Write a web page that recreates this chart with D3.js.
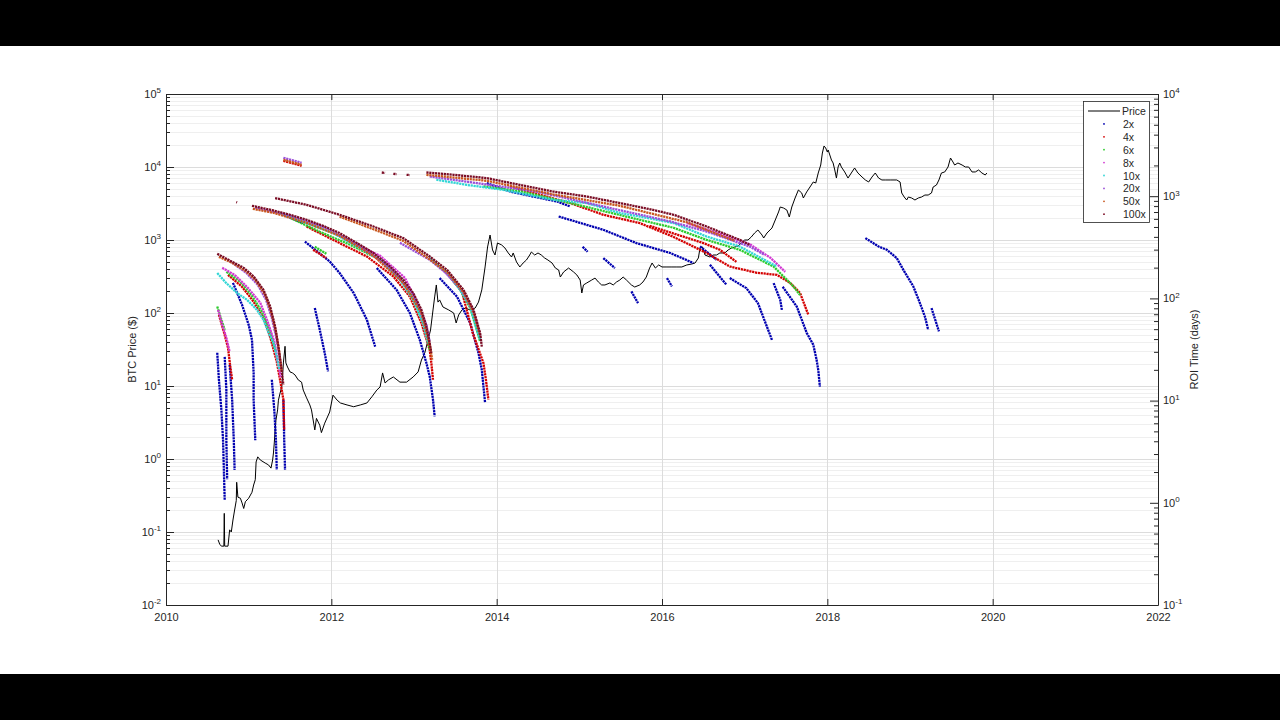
<!DOCTYPE html>
<html><head><meta charset="utf-8">
<script src="https://cdn.jsdelivr.net/npm/d3@7"></script>
<style>
body{margin:0;background:#000;}
svg{display:block;}
text{font-family:"Liberation Sans",Arial,Helvetica,sans-serif;fill:#262626;}
</style>
</head><body>
<svg id="chart" width="1280" height="720"></svg>
<script>
// ---------- DATA ----------
const priceData = [
[2010.63,0.078],[2010.65,0.068],[2010.67,0.064],[2010.70,0.064],[2010.705,0.18],[2010.71,0.064],[2010.75,0.064],
[2010.77,0.107],[2010.79,0.10],[2010.81,0.146],[2010.83,0.20],[2010.85,0.27],[2010.855,0.48],[2010.87,0.30],
[2010.90,0.29],[2010.92,0.25],[2010.94,0.21],[2010.96,0.26],[2011.00,0.29],[2011.04,0.35],[2011.06,0.44],
[2011.08,0.52],[2011.09,0.91],[2011.11,1.07],[2011.14,0.97],[2011.20,0.88],[2011.24,0.83],[2011.27,0.75],
[2011.29,0.97],[2011.30,1.21],[2011.31,1.66],[2011.32,2.5],[2011.33,3.4],[2011.35,4.7],[2011.36,6.4],
[2011.38,8.0],[2011.40,9.7],[2011.41,13.3],[2011.42,20.7],[2011.44,35],[2011.45,20.7],[2011.47,18.2],
[2011.50,15.6],[2011.53,15.1],[2011.56,14.2],[2011.60,12.1],[2011.64,11.3],[2011.66,8.8],[2011.70,6.9],
[2011.74,5.5],[2011.76,4.7],[2011.80,2.5],[2011.82,3.6],[2011.86,2.9],[2011.88,2.3],[2011.92,3.1],
[2011.98,4.4],[2012.02,7.5],[2012.07,6.4],[2012.11,5.85],[2012.19,5.5],[2012.27,5.2],[2012.35,5.5],
[2012.43,5.85],[2012.49,7.1],[2012.55,8.8],[2012.59,9.7],[2012.62,15.1],[2012.65,11.0],[2012.69,12.1],
[2012.75,13.3],[2012.83,11.3],[2012.91,11.3],[2012.99,13.3],[2013.05,15.6],[2013.09,22.7],[2013.13,28.3],
[2013.17,42.7],[2013.20,58.5],[2013.23,110],[2013.25,166],[2013.27,242],[2013.29,141],[2013.31,151],
[2013.35,121],[2013.42,110],[2013.48,100],[2013.51,73],[2013.54,94],[2013.58,110],[2013.62,117],
[2013.68,110],[2013.74,117],[2013.78,141],[2013.82,207],[2013.86,427],[2013.89,802],[2013.92,1170],
[2013.95,730],[2013.98,623],[2014.01,910],[2014.06,855],[2014.10,777],[2014.14,664],[2014.18,585],
[2014.20,664],[2014.24,500],[2014.28,427],[2014.32,484],[2014.36,532],[2014.40,623],[2014.42,685],
[2014.46,623],[2014.50,664],[2014.54,623],[2014.58,567],[2014.62,532],[2014.67,484],[2014.71,413],
[2014.75,388],[2014.77,311],[2014.81,365],[2014.87,413],[2014.93,365],[2014.97,332],[2015.01,283],
[2015.03,188],[2015.05,242],[2015.09,258],[2015.15,283],[2015.19,301],[2015.23,266],[2015.27,242],
[2015.31,242],[2015.37,258],[2015.41,242],[2015.45,266],[2015.49,283],[2015.53,311],[2015.57,283],
[2015.63,242],[2015.67,227],[2015.73,242],[2015.77,266],[2015.81,311],[2015.85,413],[2015.88,484],
[2015.92,413],[2015.96,455],[2016.00,427],[2016.06,427],[2016.12,427],[2016.18,427],[2016.24,427],
[2016.30,455],[2016.36,469],[2016.40,484],[2016.44,567],[2016.46,777],[2016.49,802],[2016.52,623],
[2016.58,585],[2016.62,623],[2016.66,623],[2016.70,664],[2016.76,664],[2016.80,730],[2016.84,777],
[2016.88,802],[2016.92,828],[2016.96,910],[2017.00,1000],[2017.04,1000],[2017.08,1099],[2017.12,1247],
[2017.16,1371],[2017.21,1170],[2017.23,1065],[2017.27,1247],[2017.33,1459],[2017.37,1879],[2017.41,2420],
[2017.43,2831],[2017.47,2742],[2017.51,2576],[2017.54,2065],[2017.57,2831],[2017.61,3760],[2017.65,4841],
[2017.69,4404],[2017.71,3760],[2017.75,4548],[2017.79,5321],[2017.83,6233],[2017.86,6037],[2017.89,8278],
[2017.92,10650],[2017.94,15550],[2017.96,19400],[2017.98,18200],[2018.00,16040],[2018.01,17100],
[2018.03,14590],[2018.05,12470],[2018.07,11350],[2018.09,9100],[2018.11,7060],[2018.13,10000],
[2018.15,11350],[2018.17,10000],[2018.21,8550],[2018.25,7060],[2018.29,8278],[2018.33,9690],[2018.37,8278],
[2018.42,7290],[2018.46,6640],[2018.50,6233],[2018.54,7290],[2018.58,8278],[2018.62,7060],[2018.66,6640],
[2018.70,6640],[2018.76,6640],[2018.84,6640],[2018.88,6233],[2018.90,4404],[2018.93,3880],[2018.96,3530],
[2018.98,3880],[2019.02,3760],[2019.06,3530],[2019.10,3760],[2019.14,3880],[2019.18,4130],[2019.22,4130],
[2019.26,4404],[2019.28,5321],[2019.32,5660],[2019.35,6640],[2019.38,8278],[2019.42,8550],[2019.46,10000],
[2019.49,13280],[2019.52,11700],[2019.54,10650],[2019.58,11350],[2019.63,10650],[2019.67,10000],
[2019.71,10000],[2019.75,8550],[2019.79,8550],[2019.83,9100],[2019.87,8278],[2019.91,7770],[2019.93,8278]
];

const seriesNames = ["2x","4x","6x","8x","10x","20x","50x","100x"];
const seriesColors = ["#0000b0","#d40000","#2ecc2e","#d23ad2","#33d6d6","#9a4fd8","#c8561e","#7a0c24"];

// ROI time (days) vs buy date, each series = list of dotted segments
const roi2x = [
 [[2010.62,29.4],[2010.64,16.0],[2010.67,8.1],[2010.69,4.1],[2010.70,2.1],[2010.71,1.07]],
 [[2010.71,26.8],[2010.73,12.8],[2010.73,4.1],[2010.74,1.7]],
 [[2010.77,22.4],[2010.80,10.2],[2010.82,4.1],[2010.83,2.1]],
 [[2010.81,142],[2010.92,86.5],[2011.00,55.2],[2011.04,39.3],[2011.06,18.7],[2011.06,10.2],[2011.08,4.1]],
 [[2011.28,16.0],[2011.31,8.1],[2011.33,4.1],[2011.34,2.1]],
 [[2011.42,10.2],[2011.43,4.1],[2011.44,2.1]],
 [[2011.42,658],[2011.66,546]],
 [[2011.68,360],[2011.98,230],[2012.10,177],[2012.27,113],[2012.43,61.7],[2012.53,33.8]],
 [[2011.80,80.4],[2011.86,49.3],[2011.92,29.2],[2011.96,19.3]],
 [[2012.55,198],[2012.79,121],[2012.95,71.8],[2013.07,39.3],[2013.15,23.3],[2013.19,17.2],[2013.23,10.2],[2013.25,7.0]],
 [[2013.31,158],[2013.52,104],[2013.68,57.3],[2013.78,29.2],[2013.82,20.0],[2013.86,9.5]],
 [[2013.88,1344],[2014.16,1112],[2014.44,993],[2014.73,888],[2014.89,793]],
 [[2014.75,633],[2015.29,469],[2015.69,348],[2016.10,278],[2016.38,222]],
 [[2015.04,320],[2015.10,286]],
 [[2015.29,248],[2015.43,198]],
 [[2015.63,117],[2015.71,90]],
 [[2016.06,158],[2016.12,131]],
 [[2016.46,322],[2016.66,239]],
 [[2016.58,213],[2016.78,136]],
 [[2016.82,158],[2017.02,126],[2017.16,90],[2017.33,39.3]],
 [[2017.35,141],[2017.43,96.9],[2017.45,77.3]],
 [[2017.46,130],[2017.63,83.3],[2017.75,46.1],[2017.83,35.2],[2017.87,25.1],[2017.89,20.0],[2017.91,13.7]],
 [[2018.46,389],[2018.62,322],[2018.72,299],[2018.84,248],[2018.92,190],[2019.04,131],[2019.12,90],[2019.18,66.5],[2019.22,49.3]],
 [[2019.26,80.4],[2019.35,47.5]]
];
const roi4x = [
 [[2010.64,69.1],[2010.70,47.1],[2010.75,32.9],[2010.77,24.0],[2010.80,16.0]],
 [[2010.75,170],[2010.92,130],[2011.06,92.7],[2011.19,61.7],[2011.27,39.3],[2011.34,24.0],[2011.39,14.3],[2011.42,10.2],[2011.43,5.2]],
 [[2011.42,2220],[2011.64,1985]],
 [[2011.78,299],[2011.94,248]],
 [[2011.70,505],[2012.10,348],[2012.43,257],[2012.75,164],[2012.95,104],[2013.09,57.3],[2013.19,31.4],[2013.21,23.3],[2013.23,16.0]],
 [[2013.39,182],[2013.58,116],[2013.71,46.1],[2013.84,23.3],[2013.87,16.0],[2013.90,10.2]],
 [[2014.16,1245],[2014.89,857],[2015.29,658],[2015.73,546],[2016.13,403],[2016.54,278],[2016.82,205],[2017.15,178],[2017.39,170],[2017.55,142],[2017.67,113],[2017.77,69.1]],
 [[2015.85,513],[2016.50,348],[2016.70,299],[2016.90,228]]
];
const roi6x = [
 [[2010.62,83.3],[2010.67,61.7],[2010.71,49.3]],
 [[2010.73,182],[2010.90,145],[2011.04,106],[2011.16,74],[2011.26,47.1],[2011.33,30.0]],
 [[2011.50,615],[2011.86,449],[2012.23,334],[2012.59,239],[2012.83,159],[2012.99,101],[2013.10,61.7],[2013.16,41.2],[2013.19,31.4]],
 [[2011.80,320],[2011.94,273]],
 [[2013.37,190],[2013.56,121],[2013.68,80.9],[2013.76,49.3],[2013.80,37.6]],
 [[2013.84,1250],[2014.28,1120],[2014.89,857],[2015.73,588],[2016.14,491],[2016.54,374],[2016.94,299],[2017.35,205],[2017.59,131],[2017.67,108]]
];
const roi8x = [
 [[2010.63,77.3],[2010.68,55.2],[2010.73,41.2],[2010.77,30.0]],
 [[2010.68,199],[2010.83,170],[2010.99,127],[2011.14,90.6],[2011.23,59],[2011.31,37.6],[2011.35,25.1],[2011.39,16.7]],
 [[2012.23,358],[2012.59,261],[2012.89,159],[2013.05,86.5],[2013.13,51.6],[2013.19,35.2]],
 [[2013.35,190],[2013.56,124],[2013.68,86.5],[2013.78,49.3]],
 [[2016.30,546],[2016.70,430],[2017.06,340],[2017.31,250],[2017.49,182]]
];
const roi10x = [
 [[2010.62,177],[2010.73,141],[2010.86,113],[2010.98,96.9],[2011.10,77.3],[2011.18,61.7],[2011.24,46.1],[2011.30,36.8],[2011.34,27.0],[2011.37,20.0]],
 [[2011.38,684],[2011.70,546],[2012.02,436],[2012.31,322],[2012.59,239],[2012.83,152],[2012.99,96.9],[2013.11,57.3],[2013.17,36.5]],
 [[2013.19,248],[2013.40,177],[2013.56,121],[2013.68,83.3],[2013.76,49.3],[2013.80,39.3]],
 [[2013.27,1450],[2013.64,1290],[2014.08,1155],[2014.68,923],[2015.09,857],[2015.49,684],[2015.73,633],[2016.14,546],[2016.54,403],[2016.94,322],[2017.39,205]]
];
const roi20x = [
 [[2010.77,233],[2010.97,178],[2011.11,136],[2011.21,96.9],[2011.28,64.6],[2011.34,39.3],[2011.38,25.1]],
 [[2011.08,770],[2011.50,643],[2011.90,502],[2012.31,342],[2012.71,199],[2012.99,111],[2013.15,55.2],[2013.19,37.6]],
 [[2012.83,350],[2013.19,239],[2013.40,174],[2013.59,116],[2013.73,70.7],[2013.80,43.1]],
 [[2013.19,1560],[2014.48,1112],[2015.29,793],[2016.10,566],[2016.54,451],[2016.94,348],[2017.06,322],[2017.24,267]],
 [[2011.42,2376],[2011.64,2123]]
];
const roi50x = [
 [[2010.64,255],[2010.80,223],[2010.96,186],[2011.08,152],[2011.20,108],[2011.27,74],[2011.33,47.1],[2011.37,30.0],[2011.40,19.1]],
 [[2011.05,753],[2011.30,688],[2011.70,549],[2012.10,410],[2012.51,261],[2012.87,142],[2013.09,72.3],[2013.19,35.2],[2013.22,25.1]],
 [[2012.10,629],[2012.51,475],[2012.87,366],[2013.19,241],[2013.40,180],[2013.60,115],[2013.72,73.1],[2013.80,43.1]],
 [[2013.15,1620],[2013.88,1415],[2014.68,1044],[2015.49,806],[2016.30,556],[2016.88,366]],
 [[2011.42,2270],[2011.64,2030]]
];
const roi100x = [
 [[2010.62,273],[2010.77,235],[2010.94,199],[2011.06,164],[2011.18,121],[2011.26,83.3],[2011.32,53.1],[2011.36,33.8],[2011.39,22.4],[2011.42,14.3]],
 [[2011.04,806],[2011.30,725],[2011.50,658],[2011.70,588],[2011.90,513],[2012.10,436],[2012.31,348],[2012.51,278],[2012.71,205],[2012.87,152],[2012.99,113],[2013.09,77.3],[2013.15,53.1],[2013.19,36.5],[2013.21,29.2]],
 [[2011.32,958],[2011.70,824],[2012.10,658],[2012.51,505],[2012.87,389],[2013.19,257],[2013.40,190],[2013.60,121],[2013.72,77.3],[2013.80,45.8],[2013.82,33.8]],
 [[2012.61,1706],[2012.65,1690]],
 [[2012.75,1656],[2012.79,1645]],
 [[2012.91,1620],[2012.95,1610]],
 [[2013.15,1706],[2013.48,1620],[2013.88,1504],[2014.28,1290],[2014.68,1112],[2015.09,993],[2015.49,857],[2015.89,736],[2016.14,658],[2016.54,505],[2016.94,374],[2017.06,334]],
 [[2010.85,876],[2010.86,870]]
];
const roiSeries = [roi2x,roi4x,roi6x,roi8x,roi10x,roi20x,roi50x,roi100x];

const xTickValues = [2010,2012,2014,2016,2018,2020,2022];
const leftExponents = [-2,-1,0,1,2,3,4,5];
const rightExponents = [-1,0,1,2,3,4];

// ---------- LAYOUT ----------
const svg = d3.select("#chart");
svg.append("rect").attr("x",0).attr("y",46).attr("width",1280).attr("height",628).attr("fill","#fff");

const M = {l:166, r:1158, t:94, b:605};
const x = d3.scaleLinear().domain([2010,2022]).range([M.l,M.r]);
const yL = d3.scaleLog().domain([1e-2,1e5]).range([M.b,M.t]);
const yR = d3.scaleLog().domain([1e-1,1e4]).range([M.b,M.t]);

const leftMajor = leftExponents.map(e=>Math.pow(10,e));
const leftMinor = [];
leftExponents.slice(0,-1).forEach(e=>{for(let k=2;k<=9;k++) leftMinor.push(k*Math.pow(10,e));});
const rightMajor = rightExponents.map(e=>Math.pow(10,e));
const rightMinor = [];
rightExponents.slice(0,-1).forEach(e=>{for(let k=2;k<=9;k++) rightMinor.push(k*Math.pow(10,e));});

// grid
const grid = svg.append("g").attr("shape-rendering","crispEdges");
grid.selectAll(".gmin").data(leftMinor).join("line")
  .attr("x1",M.l).attr("x2",M.r).attr("y1",d=>Math.round(yL(d))+0.5).attr("y2",d=>Math.round(yL(d))+0.5)
  .attr("stroke","#efefef").attr("stroke-width",1);
grid.selectAll(".gmaj").data(leftMajor).join("line")
  .attr("x1",M.l).attr("x2",M.r).attr("y1",d=>Math.round(yL(d))+0.5).attr("y2",d=>Math.round(yL(d))+0.5)
  .attr("stroke","#dcdcdc").attr("stroke-width",1);
grid.selectAll(".gx").data(xTickValues).join("line")
  .attr("y1",M.t).attr("y2",M.b).attr("x1",d=>Math.round(x(d))+0.5).attr("x2",d=>Math.round(x(d))+0.5)
  .attr("stroke","#dcdcdc").attr("stroke-width",1);

// clip
svg.append("clipPath").attr("id","plotclip").append("rect")
  .attr("x",M.l).attr("y",M.t).attr("width",M.r-M.l).attr("height",M.b-M.t);
const plot = svg.append("g").attr("clip-path","url(#plotclip)");

// price line
const priceLine = d3.line().x(d=>x(d[0])).y(d=>yL(d[1]));
plot.append("path").datum(priceData).attr("d",priceLine)
  .attr("fill","none").attr("stroke","#000").attr("stroke-width",1).attr("stroke-linejoin","round");

// ROI series (right axis), dense dotted
const roiLine = d3.line().x(d=>x(d[0])).y(d=>yR(d[1]));
roiSeries.forEach((segs,i)=>{
  const g = plot.append("g");
  g.selectAll("path").data(segs).join("path")
    .attr("d",roiLine).attr("fill","none")
    .attr("stroke",seriesColors[i]).attr("stroke-width",2.3)
    .attr("stroke-dasharray","2.2 0.7");
});

// axes
function supLabels(sel){
  sel.selectAll(".tick text").each(function(d){
    const t = d3.select(this);
    t.text(null);
    t.append("tspan").text("10");
    t.append("tspan").attr("dy","-0.55em").attr("font-size","8px").text(Math.round(Math.log10(d)));
  });
}
const axColor = "#262626";
function styleAxis(g){
  g.selectAll(".domain").attr("stroke",axColor);
  g.selectAll(".tick line").attr("stroke",axColor);
  g.selectAll("text").attr("fill",axColor).attr("font-size","11px")
   .attr("font-family","'Liberation Sans',Arial,sans-serif");
}
// left
const gL = svg.append("g").attr("transform",`translate(${M.l},0)`).attr("shape-rendering","crispEdges");
gL.call(d3.axisLeft(yL).tickValues(leftMinor).tickSize(-4).tickFormat(""));
gL.call(g=>g.select(".domain").remove());
const gL2 = svg.append("g").attr("transform",`translate(${M.l},0)`);
gL2.call(d3.axisLeft(yL).tickValues(leftMajor).tickSizeInner(-8).tickSizeOuter(0).tickPadding(5).tickFormat(d3.format("")));
supLabels(gL2); styleAxis(gL); styleAxis(gL2);
gL2.selectAll(".tick text").attr("dy","0.3em");
// right
const gR = svg.append("g").attr("transform",`translate(${M.r},0)`);
gR.call(d3.axisRight(yR).tickValues(rightMinor).tickSize(-4).tickFormat(""));
gR.call(g=>g.select(".domain").remove());
const gR2 = svg.append("g").attr("transform",`translate(${M.r},0)`);
gR2.call(d3.axisRight(yR).tickValues(rightMajor).tickSizeInner(-8).tickSizeOuter(0).tickPadding(5).tickFormat(d3.format("")));
supLabels(gR2); styleAxis(gR); styleAxis(gR2);
gR2.selectAll(".tick text").attr("dy","0.3em");
// bottom
const gB = svg.append("g").attr("transform",`translate(0,${M.b})`);
gB.call(d3.axisBottom(x).tickValues(xTickValues).tickSizeInner(-6).tickSizeOuter(0).tickPadding(8).tickFormat(d3.format("d")));
styleAxis(gB);
// top
const gT = svg.append("g").attr("transform",`translate(0,${M.t})`);
gT.call(d3.axisTop(x).tickValues(xTickValues).tickSizeInner(-6).tickSizeOuter(0).tickFormat(""));
styleAxis(gT);

// axis titles
svg.append("text").attr("transform",`translate(136,${(M.t+M.b)/2}) rotate(-90)`)
  .attr("text-anchor","middle").attr("font-size","11px").attr("fill",axColor).text("BTC Price ($)");
svg.append("text").attr("transform",`translate(1198,${(M.t+M.b)/2}) rotate(-90)`)
  .attr("text-anchor","middle").attr("font-size","11px").attr("fill",axColor).text("ROI Time (days)");

// legend
const leg = svg.append("g");
leg.append("rect").attr("x",1083.5).attr("y",101.5).attr("width",66).attr("height",121)
  .attr("fill","#fff").attr("stroke","#262626").attr("stroke-width",0.8);
const legRowY = i=>111+i*12.9;
leg.append("line").attr("x1",1088).attr("x2",1120).attr("y1",legRowY(0)).attr("y2",legRowY(0))
  .attr("stroke","#000").attr("stroke-width",1);
leg.append("text").attr("x",1122).attr("y",legRowY(0)+4).attr("font-size","10.5px").text("Price");
seriesNames.forEach((n,i)=>{
  leg.append("circle").attr("cx",1104).attr("cy",legRowY(i+1)).attr("r",0.9).attr("fill",seriesColors[i]);
  leg.append("text").attr("x",1123).attr("y",legRowY(i+1)+4).attr("font-size","10.5px").text(n);
});
</script>
</body></html>
